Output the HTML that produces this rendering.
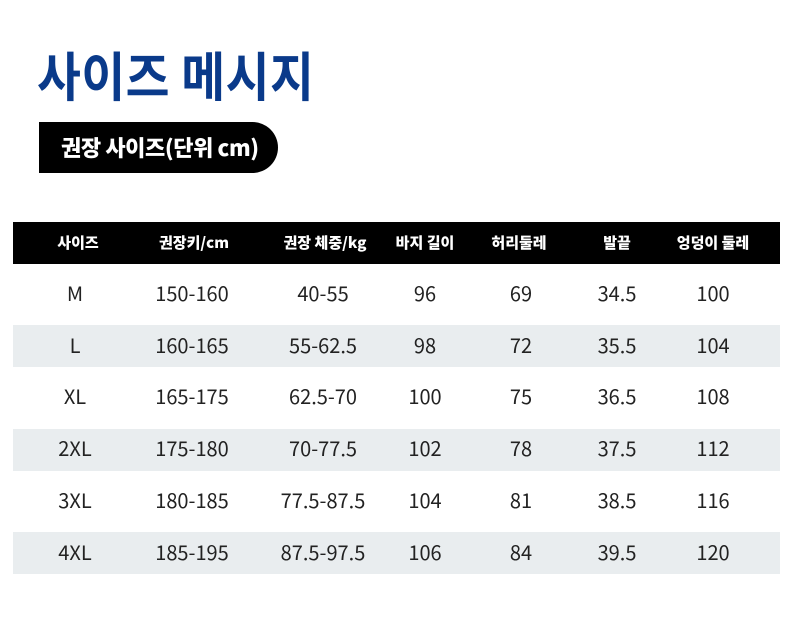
<!DOCTYPE html>
<html>
<head>
<meta charset="utf-8">
<style>
  html, body { margin:0; padding:0; }
  body { width:790px; height:619px; background:#fff; position:relative; overflow:hidden;
         font-family:"Noto Sans CJK KR","Liberation Sans",sans-serif; }
  .title { position:absolute; left:37px; top:48px; font-size:53px; line-height:53px; font-weight:700;
           color:#0a3a8a; white-space:nowrap; transform:scaleX(0.9); transform-origin:left top; letter-spacing:0.5px; }
  .pill { position:absolute; left:39px; top:122px; width:239px; height:51px; background:#000;
          border-radius:0 26px 26px 0; }
  .pilltext { position:absolute; left:61px; top:136px; font-size:22px; line-height:22px; font-weight:900;
              color:#fff; white-space:nowrap; letter-spacing:-0.4px; }
  .hdr { position:absolute; left:13px; top:222px; width:767px; height:42px; background:#000; }
  .band { position:absolute; left:13px; width:767px; height:42px; background:#e9edef; }
  .h { position:absolute; width:140px; text-align:center; color:#fff; font-weight:900; font-size:15px;
       line-height:15px; top:235px; white-space:nowrap; letter-spacing:0px; }
  .c { position:absolute; width:140px; text-align:center; color:#222; font-size:20px; line-height:20px;
       white-space:nowrap; }
</style>
</head>
<body>
<div class="title">사이즈 메시지</div>
<div class="pill"></div>
<div class="pilltext">권장 사이즈(단위 cm)</div>

<div class="hdr"></div>
<div class="band" style="top:325px"></div>
<div class="band" style="top:429px"></div>
<div class="band" style="top:532px"></div>

<div class="h" style="left:8px">사이즈</div>
<div class="h" style="left:124px">권장키/cm</div>
<div class="h" style="left:255px">권장 체중/kg</div>
<div class="h" style="left:355px">바지 길이</div>
<div class="h" style="left:449px">허리둘레</div>
<div class="h" style="left:547px">발끝</div>
<div class="h" style="left:643px">엉덩이 둘레</div>

<!-- Row M -->
<div class="c" style="top:283px;left:5px">M</div>
<div class="c" style="top:283px;left:122px">150-160</div>
<div class="c" style="top:283px;left:253px">40-55</div>
<div class="c" style="top:283px;left:355px">96</div>
<div class="c" style="top:283px;left:451px">69</div>
<div class="c" style="top:283px;left:547px">34.5</div>
<div class="c" style="top:283px;left:643px">100</div>
<!-- Row L -->
<div class="c" style="top:334.6px;left:5px">L</div>
<div class="c" style="top:334.6px;left:122px">160-165</div>
<div class="c" style="top:334.6px;left:253px">55-62.5</div>
<div class="c" style="top:334.6px;left:355px">98</div>
<div class="c" style="top:334.6px;left:451px">72</div>
<div class="c" style="top:334.6px;left:547px">35.5</div>
<div class="c" style="top:334.6px;left:643px">104</div>
<!-- Row XL -->
<div class="c" style="top:386.4px;left:5px">XL</div>
<div class="c" style="top:386.4px;left:122px">165-175</div>
<div class="c" style="top:386.4px;left:253px">62.5-70</div>
<div class="c" style="top:386.4px;left:355px">100</div>
<div class="c" style="top:386.4px;left:451px">75</div>
<div class="c" style="top:386.4px;left:547px">36.5</div>
<div class="c" style="top:386.4px;left:643px">108</div>
<!-- Row 2XL -->
<div class="c" style="top:438.1px;left:5px">2XL</div>
<div class="c" style="top:438.1px;left:122px">175-180</div>
<div class="c" style="top:438.1px;left:253px">70-77.5</div>
<div class="c" style="top:438.1px;left:355px">102</div>
<div class="c" style="top:438.1px;left:451px">78</div>
<div class="c" style="top:438.1px;left:547px">37.5</div>
<div class="c" style="top:438.1px;left:643px">112</div>
<!-- Row 3XL -->
<div class="c" style="top:489.9px;left:5px">3XL</div>
<div class="c" style="top:489.9px;left:122px">180-185</div>
<div class="c" style="top:489.9px;left:253px">77.5-87.5</div>
<div class="c" style="top:489.9px;left:355px">104</div>
<div class="c" style="top:489.9px;left:451px">81</div>
<div class="c" style="top:489.9px;left:547px">38.5</div>
<div class="c" style="top:489.9px;left:643px">116</div>
<!-- Row 4XL -->
<div class="c" style="top:541.6px;left:5px">4XL</div>
<div class="c" style="top:541.6px;left:122px">185-195</div>
<div class="c" style="top:541.6px;left:253px">87.5-97.5</div>
<div class="c" style="top:541.6px;left:355px">106</div>
<div class="c" style="top:541.6px;left:451px">84</div>
<div class="c" style="top:541.6px;left:547px">39.5</div>
<div class="c" style="top:541.6px;left:643px">120</div>
</body>
</html>
